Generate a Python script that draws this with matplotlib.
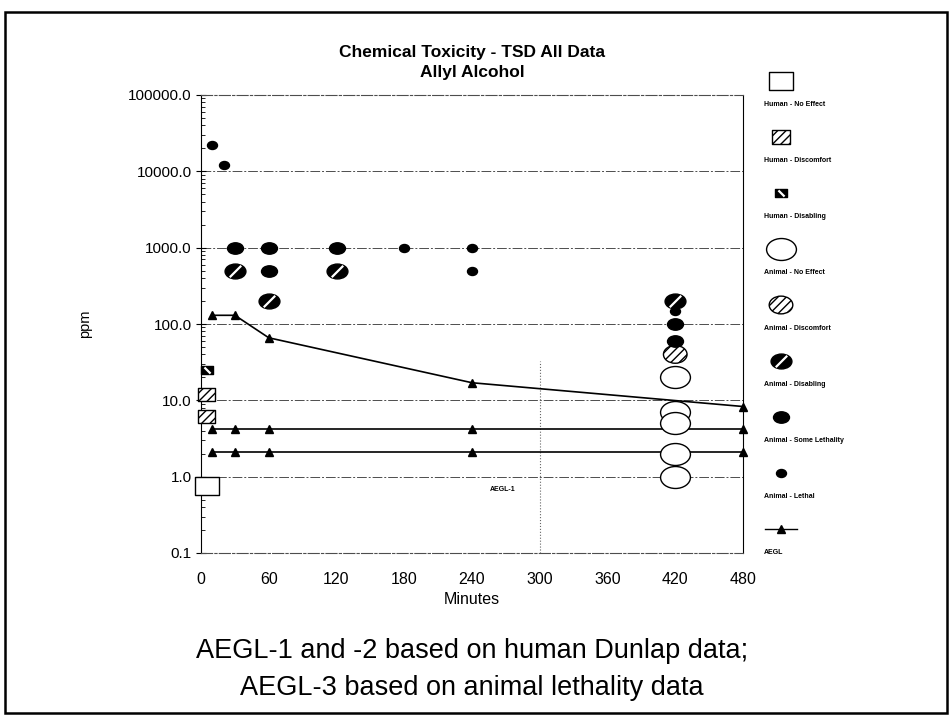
import numpy as np
import matplotlib
matplotlib.use("Agg")
import matplotlib.pyplot as plt
from matplotlib.path import Path
from matplotlib.patches import Rectangle

plt.rcParams['font.family'] = ['Liberation Sans', 'DejaVu Sans']

# data (minutes, ppm)
human_no_effect_t = [5]
human_no_effect_c = [0.75]
human_discomfort_t = [5, 5]
human_discomfort_c = [12, 6.2]
human_disabling_t = [5]
human_disabling_c = [25]

animal_no_effect_t = [420, 420, 420, 420, 420]
animal_no_effect_c = [20, 7, 5, 2, 1]
animal_discomfort_t = [420]
animal_discomfort_c = [40]
animal_disabling_t = [30, 60, 120, 420]
animal_disabling_c = [500, 200, 500, 200]
animal_some_leth_t = [30, 60, 60, 120, 420, 420]
animal_some_leth_c = [1000, 1000, 500, 1000, 100, 60]
animal_lethal_t = [10, 20, 180, 240, 240, 420]
animal_lethal_c = [22000, 12000, 1000, 1000, 500, 150]

aegl_t = [10, 30, 60, 240, 480]
aegl1 = [2.1, 2.1, 2.1, 2.1, 2.1]
aegl2 = [4.2, 4.2, 4.2, 4.2, 4.2]
aegl3 = [130, 130, 66, 17, 8.3]

legend_labels = ['Human - No Effect', 'Human - Discomfort', 'Human - Disabling',
                 'Animal - No Effect', 'Animal - Discomfort', 'Animal - Disabling',
                 'Animal - Some Lethality', 'Animal - Lethal', 'AEGL']


def ellipse(aspect):
    c = Path.unit_circle()
    return Path(c.vertices * [aspect, 1.0], c.codes)


def rect(aspect):
    return Path([(-aspect, -1), (aspect, -1), (aspect, 1), (-aspect, 1), (-aspect, -1)],
                [Path.MOVETO, Path.LINETO, Path.LINETO, Path.LINETO, Path.CLOSEPOLY])


slash = Path([(-0.5, -0.5), (0.5, 0.5)], [Path.MOVETO, Path.LINETO])
bslash = Path([(-0.5, 0.5), (0.5, -0.5)], [Path.MOVETO, Path.LINETO])

# marker styles: (path, size in pt, face, hatch, stripe)
styles = [
    (rect(1.33), 17, 'white', None, None),
    (rect(1.3), 12.5, 'white', '////', None),
    (rect(1.35), 8, 'black', None, bslash),
    (ellipse(1.36), 21.5, 'white', None, None),
    (ellipse(1.33), 17, 'white', '////', None),
    (ellipse(1.4), 15, 'black', None, slash),
    (ellipse(1.4), 11.5, 'black', None, None),
    (ellipse(1.25), 7.2, 'black', None, None),
]


def draw(ax, x, y, st, **kw):
    path, size, face, hatch, stripe = st
    ax.scatter(x, y, marker=path, s=size ** 2, facecolors=face, edgecolors='black',
               linewidths=1.0, hatch=hatch, zorder=4, **kw)
    if stripe is not None:
        ax.scatter(x, y, marker=stripe, s=(size * 0.55) ** 2, c='white',
                   linewidths=1.6, zorder=5, **kw)


fig = plt.figure(figsize=(9.51, 7.17), dpi=100)
W, H = 951, 717
ax = fig.add_axes([201 / W, 1 - 553 / H, 542 / W, 458 / H])

ax.set_yscale('log')
ax.set_ylim(0.1, 100000)
ax.set_xlim(0, 480)

for yv in [1, 10, 100, 1000, 10000]:
    ax.axhline(yv, color='0.3', lw=0.7, ls=(0, (10, 2, 2, 2)), zorder=1)
ax.axvline(300, ymax=0.42, color='0.4', lw=0.8, ls=':', zorder=1)

ax.plot(aegl_t, aegl3, color='black', lw=1.2, marker='^', ms=6, zorder=3, clip_on=False)
ax.plot(aegl_t, aegl2, color='black', lw=1.2, marker='^', ms=6, zorder=3, clip_on=False)
ax.plot(aegl_t, aegl1, color='black', lw=1.2, marker='^', ms=6, zorder=3, clip_on=False)

series = [
    (human_no_effect_t, human_no_effect_c),
    (human_discomfort_t, human_discomfort_c),
    (human_disabling_t, human_disabling_c),
    (animal_no_effect_t, animal_no_effect_c),
    (animal_discomfort_t, animal_discomfort_c),
    (animal_disabling_t, animal_disabling_c),
    (animal_some_leth_t, animal_some_leth_c),
    (animal_lethal_t, animal_lethal_c),
]
for (x, y), st in zip(series, styles):
    draw(ax, x, y, st, clip_on=False)

ax.text(267, 0.67, 'AEGL-1', fontsize=5, fontweight='bold', ha='center', va='center')

ax.set_xticks(np.arange(0, 481, 60))
ax.set_yticks([0.1, 1, 10, 100, 1000, 10000, 100000])
ax.set_yticklabels(['0.1', '1.0', '10.0', '100.0', '1000.0', '10000.0', '100000.0'])
ax.tick_params(axis='x', length=0, labelsize=11.5, pad=14)
ax.tick_params(axis='y', which='major', direction='inout', length=7, labelsize=11, pad=3)
ax.tick_params(axis='y', which='minor', direction='in', length=3)
ax.set_xlabel('Minutes', fontsize=11.5, labelpad=3)
ax.set_ylabel('ppm', fontsize=10.5, labelpad=26)

for side in ['top', 'bottom']:
    ax.spines[side].set_linestyle((0, (10, 2, 2, 2)))
    ax.spines[side].set_color('0.3')
    ax.spines[side].set_linewidth(0.8)

fig.text(472 / W, 1 - 53 / H, 'Chemical Toxicity - TSD All Data', ha='center', va='center',
         fontsize=12.5, fontweight='bold')
fig.text(472 / W, 1 - 73 / H, 'Allyl Alcohol', ha='center', va='center',
         fontsize=12.5, fontweight='bold')

# legend column
lax = fig.add_axes([0, 0, 1, 1])
lax.set_xlim(0, W)
lax.set_ylim(H, 0)
lax.axis('off')
lax.set_zorder(-1)
for i, lab in enumerate(legend_labels):
    ym = 81 + 56 * i
    if i < len(styles):
        draw(lax, [781], [ym], styles[i])
    else:
        lax.plot([765, 781, 797], [ym, ym, ym], color='black', lw=1.0, marker='^', ms=6,
                 markevery=[1], zorder=4)
    lax.text(764, ym + 23, lab, fontsize=5, fontweight='bold', ha='left', va='center')

fig.text(472 / W, 1 - 651 / H, 'AEGL-1 and -2 based on human Dunlap data;',
         ha='center', va='center', fontsize=19.5)
fig.text(472 / W, 1 - 688 / H, 'AEGL-3 based on animal lethality data',
         ha='center', va='center', fontsize=19.5)

fig.patches.append(Rectangle((5 / W, 1 - 713 / H), 942 / W, 701 / H, transform=fig.transFigure,
                             fill=False, edgecolor='black', lw=1.8))

fig.savefig('out.png', dpi=100)
